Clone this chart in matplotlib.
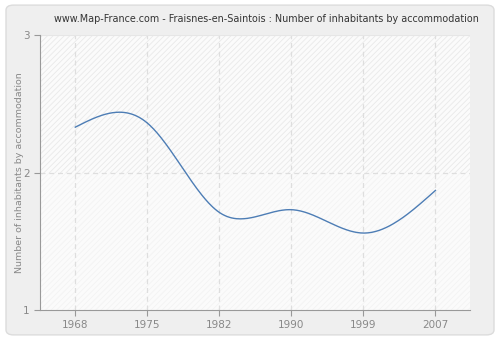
import numpy as np
import matplotlib.pyplot as plt
from matplotlib.patches import FancyBboxPatch

years = ['1968', '1975', '1982', '1990', '1999', '2007']
values = [2.33, 2.36, 1.71, 1.73, 1.56, 1.87]


def natural_spline(x, y, n=300):
    # plain natural cubic spline, only used to draw the smooth line
    x = np.asarray(x, float)
    y = np.asarray(y, float)
    k = len(x)
    h = np.diff(x)
    A = np.zeros((k, k))
    b = np.zeros(k)
    A[0, 0] = A[-1, -1] = 1
    for i in range(1, k - 1):
        A[i, i - 1] = h[i - 1]
        A[i, i] = 2 * (h[i - 1] + h[i])
        A[i, i + 1] = h[i]
        b[i] = 3 * ((y[i + 1] - y[i]) / h[i] - (y[i] - y[i - 1]) / h[i - 1])
    c = np.linalg.solve(A, b)
    xs = np.linspace(x[0], x[-1], n)
    ys = np.empty_like(xs)
    for j, t in enumerate(xs):
        i = min(np.searchsorted(x, t, side='right') - 1, k - 2)
        d = t - x[i]
        bb = (y[i + 1] - y[i]) / h[i] - h[i] * (2 * c[i] + c[i + 1]) / 3
        dd = (c[i + 1] - c[i]) / (3 * h[i])
        ys[j] = y[i] + bb * d + c[i] * d ** 2 + dd * d ** 3
    return xs, ys


plt.rcParams['font.family'] = ['DejaVu Sans']
plt.rcParams['hatch.linewidth'] = 0.6

fig = plt.figure(figsize=(5, 3.4), dpi=100)
fig.patch.set_facecolor('white')
bg = FancyBboxPatch((0.012, 0.015), 0.976, 0.97, boxstyle='round,pad=0,rounding_size=0.015',
                    transform=fig.transFigure, facecolor='#efefef', edgecolor='#dcdcdc', lw=1,
                    zorder=-10)
fig.patches.append(bg)

ax = fig.add_axes([0.08, 0.088, 0.86, 0.809])
ax.set_zorder(5)
ax.set_facecolor('#fbfbfb')
xpos = np.arange(len(years))
ax.set_xlim(-0.49, 5.48)
ax.set_ylim(1, 3)

ax.fill_between([-0.49, 5.48], 2, 3, facecolor='#fbfbfb', hatch='//////',
                edgecolor='#e9e9e9', lw=0, zorder=0)
ax.fill_between([-0.49, 5.48], 1, 2, facecolor='#fbfbfb', hatch='//////',
                edgecolor='#f3f3f3', lw=0, zorder=0)

for x in xpos:
    ax.axvline(x, color='#dedede', ls=(0, (4, 3)), lw=0.9, zorder=1)
ax.axhline(2, color='#dedede', ls=(0, (4, 3)), lw=0.9, zorder=1)
ax.axhline(3, color='#e6e6e6', lw=0.8, zorder=1)

xs, ys = natural_spline(xpos, values)
ax.plot(xs, ys, color='#4d7db5', lw=1.0, zorder=3)

ax.set_xticks(xpos)
ax.set_xticklabels(years)
ax.set_yticks([1, 2, 3])
for s in ['top', 'right']:
    ax.spines[s].set_visible(False)
for s in ['left', 'bottom']:
    ax.spines[s].set_color('#999999')
ax.tick_params(colors='#999999', labelcolor='#888888', labelsize=7.5, length=4, width=0.8)
ax.set_ylabel('Number of inhabitants by accommodation', color='#888888', fontsize=6.8,
              labelpad=-1)
fig.text(0.532, 0.945, 'www.Map-France.com - Fraisnes-en-Saintois : Number of inhabitants by accommodation',
         color='#333333', fontsize=6.9, ha='center', va='center')

fig.savefig('out.png', dpi=100, facecolor=fig.get_facecolor())
